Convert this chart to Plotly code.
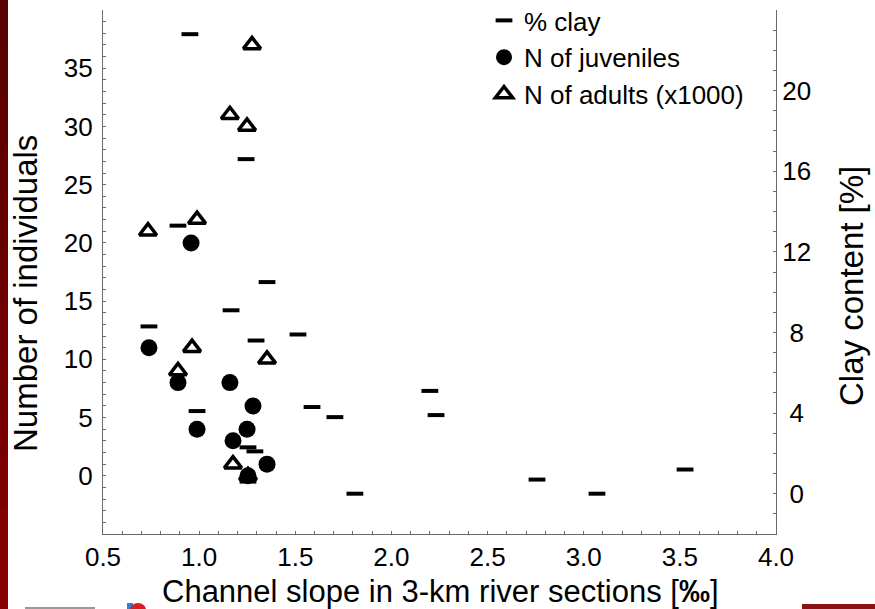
import plotly.graph_objects as go

# ---- data: channel slope of 3-km river sections [‰] ----
clay_slope = [0.952, 1.244, 0.890, 1.353, 1.166, 0.739, 1.296, 1.514, 0.989, 1.254,
              1.290, 1.254, 1.587, 1.706, 1.810, 2.200, 2.232, 2.757, 3.069, 3.527]
clay_pct = [22.8, 16.6, 13.3, 10.5, 9.1, 8.3, 7.6, 7.9, 4.1, 2.3,
            2.1, 0.6, 4.3, 3.8, 0.0, 5.1, 3.9, 0.7, 0.0, 1.2]

juv_slope = [0.739, 0.958, 0.890, 0.989, 1.160, 1.280, 1.249, 1.176, 1.353, 1.254]
juv_n = [11, 20, 8, 4, 8, 6, 4, 3, 1, 0]

adult_slope = [1.275, 1.160, 1.249, 0.734, 0.989, 0.963, 0.890, 1.353, 1.176, 1.254]
adult_n = [37, 31, 30, 21, 22, 11, 9, 10, 1, 0]

x_ticks = [0.5, 1.0, 1.5, 2.0, 2.5, 3.0, 3.5, 4.0]
left_ticks = [0, 5, 10, 15, 20, 25, 30, 35]
right_ticks = [0, 4, 8, 12, 16, 20]

# ---- page geometry ----
W_FIG, H_FIG = 875, 609
M_L, M_R, M_T, M_B = 103, 99, 10, 75
PW = W_FIG - M_L - M_R
PH = H_FIG - M_T - M_B


def fx(px):
    return (px - M_L) / PW


def fy(py):
    return (H_FIG - M_B - py) / PH


FONT = "Liberation Sans, Arial, sans-serif"
AXIS_COL = "#6a6a6a"

fig = go.Figure()

fig.add_trace(go.Scatter(
    x=clay_slope, y=clay_pct, yaxis="y2", mode="markers", name="% clay",
    legendrank=1,
    marker=dict(symbol="line-ew", size=12, color="black",
                line=dict(color="black", width=4)),
))
fig.add_trace(go.Scatter(
    x=adult_slope, y=adult_n, mode="markers", name="N of adults (x1000)",
    legendrank=3,
    marker=dict(symbol="triangle-up", size=15, color="white",
                line=dict(color="black", width=3.5)),
))
fig.add_trace(go.Scatter(
    x=juv_slope, y=juv_n, mode="markers", name="N of juveniles",
    legendrank=2,
    marker=dict(symbol="circle", size=17, color="black",
                line=dict(color="black", width=0)),
))

common_axis = dict(
    showline=True, linecolor=AXIS_COL, linewidth=1.3,
    ticks="inside", ticklen=3, tickwidth=1, tickcolor=AXIS_COL,
    showgrid=False, zeroline=False,
    tickfont=dict(family=FONT, size=26, color="black"),
)

fig.update_layout(
    width=W_FIG, height=H_FIG,
    margin=dict(l=M_L, r=M_R, t=M_T, b=M_B, autoexpand=False),
    paper_bgcolor="white", plot_bgcolor="white",
    font=dict(family=FONT, color="black", size=25),
    xaxis=dict(
        range=[0.5, 4.0], tickvals=x_ticks, tickformat=".1f",
        minor=dict(dtick=0.1, tick0=0.5, ticks="inside", ticklen=3,
                   tickcolor=AXIS_COL, showgrid=False),
        **common_axis,
    ),
    yaxis=dict(
        range=[-5, 40], tickvals=left_ticks, ticklabelstandoff=4,
        minor=dict(dtick=1, tick0=0, ticks="inside", ticklen=3,
                   tickcolor=AXIS_COL, showgrid=False),
        **common_axis,
    ),
    yaxis2=dict(
        range=[-2, 24], overlaying="y", side="right", tickvals=right_ticks,
        ticktext=[("\u00a0" + str(v)) if v < 10 else str(v) for v in right_ticks],
        minor=dict(dtick=1, tick0=0, ticks="inside", ticklen=3,
                   tickcolor=AXIS_COL, showgrid=False),
        **common_axis,
    ),
    showlegend=True,
    legend=dict(
        x=fx(484), y=fy(-3), xanchor="left", yanchor="top",
        bgcolor="rgba(0,0,0,0)", borderwidth=0,
        font=dict(family=FONT, size=26, color="black"),
        itemsizing="trace", tracegroupgap=0,
    ),
)

# axis titles
fig.add_annotation(
    text="Channel slope in 3-km river sections [<b>‰</b>]",
    xref="paper", yref="paper", x=fx(440), y=fy(591),
    xanchor="center", yanchor="middle", showarrow=False,
    font=dict(family=FONT, size=31, color="black"),
)
fig.add_annotation(
    text="Number of individuals",
    xref="paper", yref="paper", x=fx(25), y=fy(294),
    xanchor="center", yanchor="middle", showarrow=False, textangle=-90,
    font=dict(family=FONT, size=33, color="black"),
)
fig.add_annotation(
    text="Clay content [%]",
    xref="paper", yref="paper", x=fx(851), y=fy(286),
    xanchor="center", yanchor="middle", showarrow=False, textangle=-90,
    font=dict(family=FONT, size=33, color="black"),
)

# slide frame: dark red band on the left, shaded top to bottom
bands = 12
step = H_FIG / bands
for i in range(bands):
    t = i / (bands - 1)
    r = int(0x58 + (0x86 - 0x58) * t)
    fig.add_shape(
        type="rect", xref="paper", yref="paper", layer="above",
        x0=fx(0), x1=fx(8), y0=fy(i * step - 1), y1=fy((i + 1) * step + 1),
        fillcolor=f"rgb({r},0,0)", line=dict(width=0),
    )
# slide footer fragments
fig.add_shape(type="rect", xref="paper", yref="paper", layer="above",
              x0=fx(802), x1=fx(875), y0=fy(609), y1=fy(604),
              fillcolor="#8b1212", line=dict(width=0))
fig.add_shape(type="rect", xref="paper", yref="paper", layer="above",
              x0=fx(25), x1=fx(95), y0=fy(609), y1=fy(607),
              fillcolor="#9a9a9a", line=dict(width=0))
fig.add_shape(type="rect", xref="paper", yref="paper", layer="above",
              x0=fx(127), x1=fx(133), y0=fy(609), y1=fy(603),
              fillcolor="#2f7fd8", line=dict(width=0))
fig.add_shape(type="circle", xref="paper", yref="paper", layer="above",
              x0=fx(130), x1=fx(146), y0=fy(617), y1=fy(603),
              fillcolor="#d42020", line=dict(width=0))

fig.write_html("out.html")
